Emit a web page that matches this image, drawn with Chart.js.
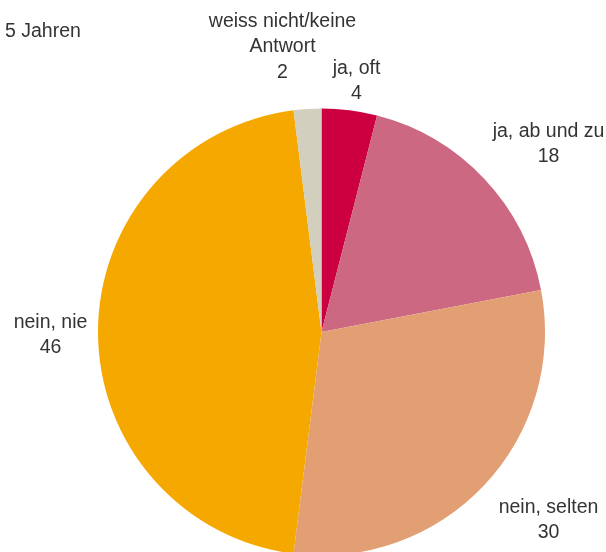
<!DOCTYPE html>
<html><head><meta charset="utf-8">
<script src="https://cdn.jsdelivr.net/npm/chart.js@4/dist/chart.umd.min.js"></script>
<style>
html,body{margin:0;padding:0;background:#fff;overflow:hidden;}
#wrap{position:absolute;left:0;top:0;width:606px;height:560px;}
</style></head>
<body>
<div id="wrap"><canvas id="c"></canvas></div>
<script>
const titleText = "5 Jahren";
const categories = ["ja, oft", "ja, ab und zu", "nein, selten", "nein, nie", "weiss nicht/keine Antwort"];
const labelLines = [["ja, oft"], ["ja, ab und zu"], ["nein, selten"], ["nein, nie"], ["weiss nicht/keine", "Antwort"]];
const values = [4, 18, 30, 46, 2];
const colors = ["#CC0040", "#CC6882", "#E39F74", "#F5A800", "#D2CFBF"];
// label block centre offsets from pie centre (px)
const labelOffsets = [[35, -251], [227, -188], [227, 188], [-271, 3], [-39, -285]];

const FONT = '19.5px "Liberation Sans", Arial, sans-serif';
const LINE_H = 25.5;

const labelPlugin = {
  id: 'labels',
  afterDraw(chart) {
    const ctx = chart.ctx;
    const meta = chart.getDatasetMeta(0);
    ctx.save();
    ctx.font = FONT;
    ctx.fillStyle = '#333333';
    ctx.textBaseline = 'middle';
    ctx.textAlign = 'left';
    ctx.fillText(titleText, 5, 32);
    ctx.textAlign = 'center';
    meta.data.forEach((arc, i) => {
      const cx = arc.x, cy = arc.y;
      const lines = labelLines[i].concat([String(values[i])]);
      const bx = cx + labelOffsets[i][0];
      const by = cy + labelOffsets[i][1];
      const top = by - (lines.length - 1) * LINE_H / 2;
      lines.forEach((t, j) => ctx.fillText(t, bx, top + j * LINE_H));
    });
    ctx.restore();
  }
};

new Chart(document.getElementById('c'), {
  type: 'pie',
  data: {
    labels: categories,
    datasets: [{ data: values, backgroundColor: colors, borderWidth: 0 }]
  },
  options: {
    responsive: true,
    maintainAspectRatio: false,
    animation: false,
    layout: { padding: { top: 108, bottom: 4, left: 98, right: 61 } },
    plugins: { legend: { display: false }, tooltip: { enabled: false }, title: { display: false } }
  },
  plugins: [labelPlugin]
});
</script>
</body></html>
